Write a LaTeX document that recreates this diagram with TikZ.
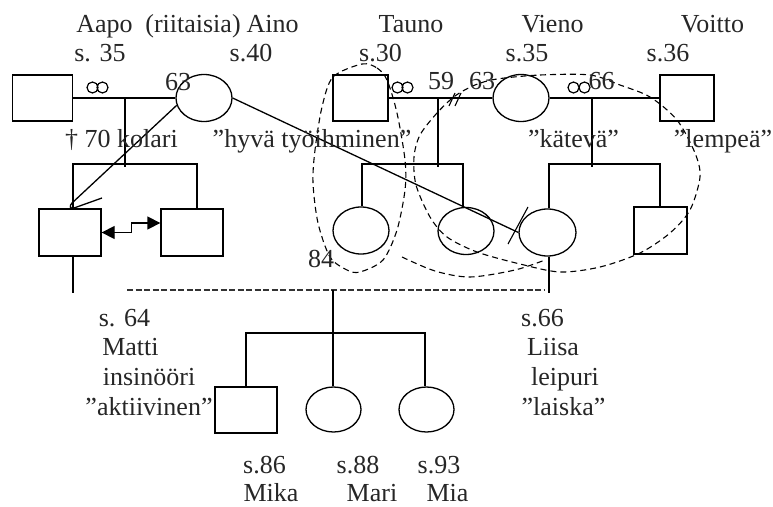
\documentclass[tikz,border=0pt]{standalone}
\usepackage{fontspec}
\setmainfont{Liberation Serif}
\usetikzlibrary{arrows.meta,positioning,shapes.geometric}

\begin{document}
\begin{tikzpicture}[x=1pt,y=-1pt,
	male/.style={rectangle,draw,line width=1.3pt,inner sep=0pt,minimum width=60pt,minimum height=46pt},
	female/.style={ellipse,draw,line width=1.3pt,inner sep=0pt,minimum width=56pt,minimum height=47pt},
	txt/.style={anchor=base,inner sep=0pt,font=\fontsize{26}{30}\selectfont,text=black!85},
	paths/.style={line width=1.3pt},
	rings/.style={line width=1.2pt},
	slash/.style={line width=1.1pt},
	circled/.style={line width=1.1pt, dash pattern=on 6pt off 4pt},
	partner/.style={line width=1.1pt, dash pattern=on 6pt off 2.5pt, black!80},
	sibarrow/.style={{Triangle[length=13pt,width=13pt]}-{Triangle[length=13pt,width=13pt]}, line width=1.3pt}
	]
\useasboundingbox (0,0) rectangle (773,506);

% parents
\node [male] (aapo) at (42.5,98) {};
\node [female] (aino) at (204,98) {};
\node [male,minimum width=55pt] (tauno) at (360.5,98) {};
\node [female] (vieno) at (521,98) {};
\node [male,minimum width=54pt] (voitto) at (687,98) {};

% children
\node [male,minimum width=62pt,minimum height=47pt] (matti) at (70,232.5) {};
\node [male,minimum width=62pt,minimum height=47pt] (veli) at (192,232.5) {};
\node [female] (tytar) at (361,230.5) {};
\node [female] (tytar2) at (466,231) {};
\node [female,minimum width=57pt] (liisa) at (547.5,232.5) {};
\node [male,minimum width=53pt,minimum height=47pt] (poika) at (660.5,230.5) {};

% grandchildren
\node [male,minimum width=62pt] (mika) at (246,410) {};
\node [female,minimum width=55pt,minimum height=45pt] (mari) at (333.5,409.5) {};
\node [female,minimum width=55pt,minimum height=45pt] (mia) at (426.5,409.5) {};

\coordinate (k1) at (125,98);  \coordinate (k1b) at (125,167);
\coordinate (s1l) at (73,164); \coordinate (s1r) at (197,164);
\coordinate (k2) at (438,98);  \coordinate (k2b) at (438,167);
\coordinate (s2l) at (362,164); \coordinate (s2r) at (463,164);
\coordinate (k3) at (592,98);  \coordinate (k3b) at (592,167);
\coordinate (s3l) at (549,164); \coordinate (s3r) at (660,164);
\coordinate (mb) at (73,293);  \coordinate (lb) at (549,293);
\coordinate (d1) at (127,290); \coordinate (d2) at (545,290);
\coordinate (k4) at (333,290);
\coordinate (s4l) at (246,333); \coordinate (s4r) at (425,333);

% marriages
\draw [paths] (aapo) -- (aino);
\draw [paths] (tauno) -- (vieno);
\draw [paths] (vieno) -- (voitto);
\draw [rings] (92.5,87.5) circle (5.5pt) (102.5,87.5) circle (5.5pt);
\draw [rings] (397.5,87.5) circle (5.5pt) (407.5,87.5) circle (5.5pt);
\draw [rings] (573.5,87.5) circle (5.5pt) (584.5,87.5) circle (5.5pt);
\draw [slash] (449,106) -- (455,93) (455,106) -- (461,93);

% descent
\draw [paths] (k1) -- (k1b);
\draw [paths] (s1l |- matti.north) -- (s1l) -- (s1r) -- (s1r |- veli.north);
\draw [paths] (k2) -- (k2b);
\draw [paths] (s2l |- tytar.north) -- (s2l) -- (s2r) -- (s2r |- tytar2.north);
\draw [paths] (k3) -- (k3b);
\draw [paths] (s3l |- liisa.north) -- (s3l) -- (s3r) -- (s3r |- poika.north);

\draw [paths] (s1l |- matti.south) -- (mb);
\draw [paths] (lb |- liisa.south) -- (lb);
\draw [partner] (d1) -- (d2);
\draw [paths] (k4) -- (k4 |- mari.north);
\draw [paths] (s4l |- mika.north) -- (s4l) -- (s4r) -- (s4r |- mia.north);

% relations
\draw [paths] (aino.east) -- (liisa.west);
\draw [slash] (508,244) -- (528,207);
\draw [paths] (aino.195) -- (72,203) .. controls (69,206) and (70,209) .. (74,208) -- (102,198);
\draw [sibarrow] (matti.east) -- ++(30,0) |- ([yshift=9.5pt]veli.west);

\draw [circled] plot [smooth cycle] coordinates {(362,64) (377,68) (387,80) (397,113) (405,160) (405,190) (397,230) (383,260) (360,272) (347,270) (330,257) (318,223) (313,183) (315,150) (322,107) (333,77)};
\draw [circled] plot [smooth cycle] coordinates {(497,79) (540,75) (590,75) (620,85) (650,97) (677,120) (695,153) (700,177) (690,210) (670,233) (640,253) (600,267) (560,272) (520,264) (477,252) (447,237) (430,217) (416,185) (414,157) (420,135) (437,113) (455,96) (475,85)};
\draw [circled] plot [smooth] coordinates {(402,257) (435,271) (470,277) (515,270) (545,260)};

% texts
\node [txt] (naapo) at (104.5,32) {Aapo};
\node [txt] (nriit) at (193,32) {(riitaisia)};
\node [txt] (naino) at (272.5,32) {Aino};
\node [txt] (ntauno) at (411,32) {Tauno};
\node [txt] (nvieno) at (552.5,32) {Vieno};
\node [txt] (nvoitto) at (712.5,32) {Voitto};
\node [txt] (saapo) at (100,61) {s. 35};
\node [txt] (saino) at (251,61) {s.40};
\node [txt] (stauno) at (380.5,61) {s.30};
\node [txt] (svieno) at (527,61) {s.35};
\node [txt] (svoitto) at (668,61) {s.36};
\node [txt] (y63a) at (178,90) {63};
\node [txt] (y59) at (441,89) {59};
\node [txt] (y63b) at (482,89) {63};
\node [txt] (y66) at (601.5,89) {66};
\node [txt] (kolari) at (121.5,147) {† 70 kolari};
\node [txt] (hyva) at (312,147) {”hyvä työihminen”};
\node [txt] (kateva) at (573.5,147) {”kätevä”};
\node [txt] (lempea) at (723,147) {”lempeä”};
\node [txt] (y84) at (321,267) {84};

\node [txt] (smatti) at (124.5,326) {s. 64};
\node [txt] (nmatti) at (130.5,355) {Matti};
\node [txt] (amatti) at (149,385) {insinööri};
\node [txt] (lmatti) at (149,415) {”aktiivinen”};
\node [txt] (sliisa) at (542.5,326) {s.66};
\node [txt] (nliisa) at (553,355) {Liisa};
\node [txt] (aliisa) at (565,385) {leipuri};
\node [txt] (lliisa) at (563.5,415) {”laiska”};

\node [txt] (smika) at (264.5,473) {s.86};
\node [txt] (nmika) at (271,501) {Mika};
\node [txt] (smari) at (358,473) {s.88};
\node [txt] (nmari) at (372,501) {Mari};
\node [txt] (smia) at (439,473) {s.93};
\node [txt] (nmia) at (447.5,501) {Mia};
\end{tikzpicture}
\end{document}
